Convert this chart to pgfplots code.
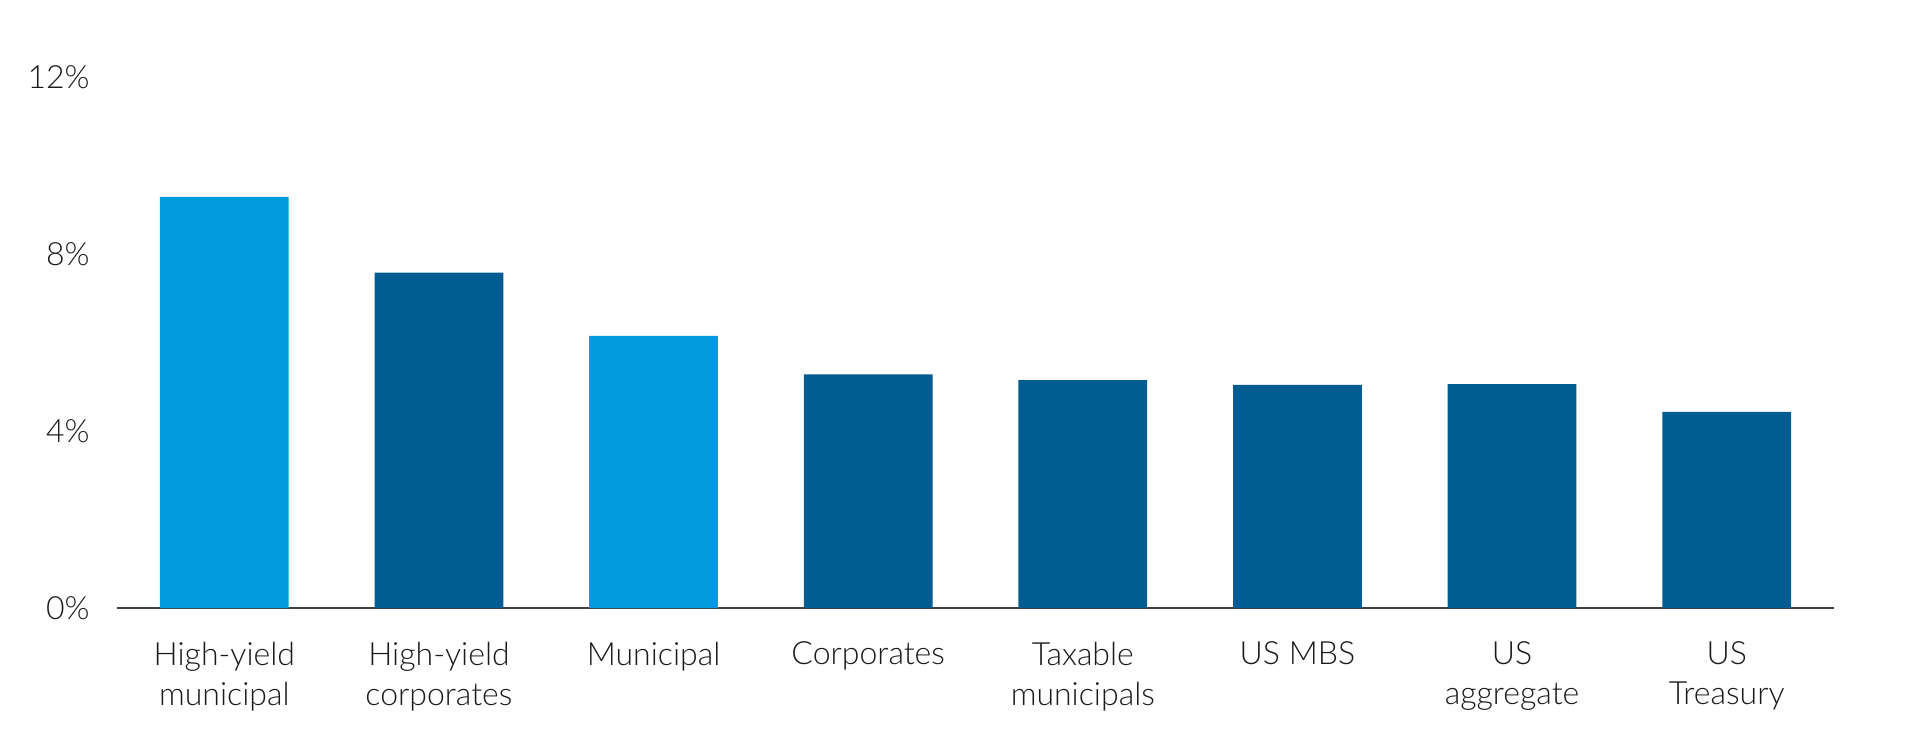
\documentclass[border=0pt]{standalone}
\usepackage{pgfplots}
\pgfplotsset{compat=1.18}
\usepackage{fontspec}
\setmainfont{Lato}[UprightFont={* Light}]

\definecolor{lightblue}{HTML}{009BDB}
\definecolor{darkblue}{HTML}{005C91}
\definecolor{axisgray}{HTML}{404040}
\definecolor{labeltext}{HTML}{1A1A1A}

\begin{document}
\begin{tikzpicture}
\path[use as bounding box] (-58.5pt,-71.5pt) rectangle (897pt,304pt);
\begin{axis}[
  at={(0,0)}, anchor=south west,
  scale only axis,
  width=858.5pt, height=265.5pt,
  xmin=-0.5, xmax=7.5, ymin=0, ymax=12,
  axis lines=left,
  axis line style={-},
  y axis line style={draw=none},
  x axis line style={draw=axisgray, line width=1.25pt},
  major tick length=0pt,
  ytick={0,4,8,12},
  yticklabels={0\%,4\%,8\%,12\%},
  xtick={0,1,2,3,4,5,6,7},
  xticklabels={{High-yield\\municipal},{High-yield\\corporates},{Municipal},{Corporates},{Taxable\\municipals},{US MBS},{US\\aggregate},{US\\Treasury}},
  yticklabel style={anchor=east, inner sep=0pt, xshift=-13.5pt, text=labeltext, font=\fontsize{16}{20}\selectfont},
  xticklabel style={anchor=north, align=center, inner sep=0pt, yshift=-16.8pt, text=labeltext, font=\fontsize{16}{20}\selectfont},
  clip=false,
]
% light-blue bars: the municipal series
\addplot[ybar, bar width=0.6, bar shift=0pt, fill=lightblue, draw=none]
  coordinates {(0,9.29) (2,6.15)};
% dark-blue bars: the other sectors
\addplot[ybar, bar width=0.6, bar shift=0pt, fill=darkblue, draw=none]
  coordinates {(1,7.58) (3,5.28) (4,5.15) (5,5.04) (6,5.06) (7,4.43)};
\end{axis}
\end{tikzpicture}
\end{document}
